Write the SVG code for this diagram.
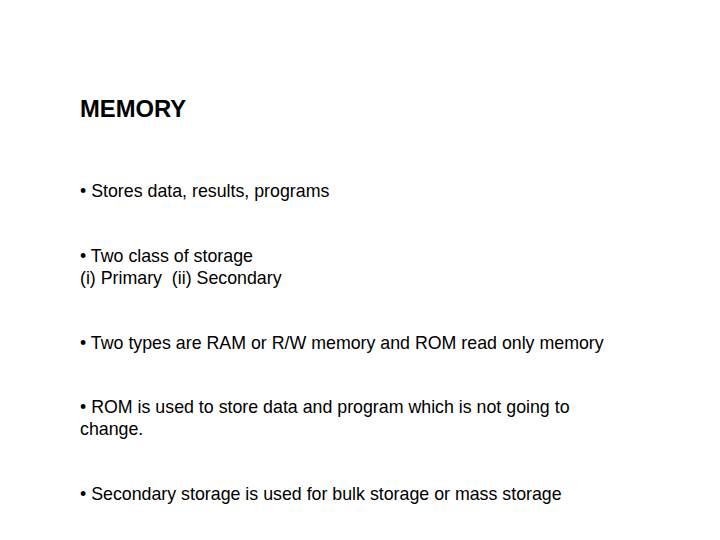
<svg xmlns="http://www.w3.org/2000/svg" width="720" height="540" viewBox="0 0 720 540">
<style>
text{font-family:"Liberation Sans",Arial,sans-serif;fill:#000}
.t{font-size:23.8px;font-weight:bold}
.b{font-size:17.8px}
</style>
<rect width="720" height="540" fill="#fff"/>
<text class="t" x="80" y="117">MEMORY</text>
<text class="b" x="80" y="197">• Stores data, results, programs</text>
<text class="b" x="80" y="262">• Two class of storage</text>
<text class="b" x="80" y="284" xml:space="preserve">(i) Primary  (ii) Secondary</text>
<text class="b" x="80" y="349">• Two types are RAM or R/W memory and ROM read only memory</text>
<text class="b" x="80" y="413">• ROM is used to store data and program which is not going to</text>
<text class="b" x="80" y="435">change.</text>
<text class="b" x="80" y="500">• Secondary storage is used for bulk storage or mass storage</text>
</svg>
